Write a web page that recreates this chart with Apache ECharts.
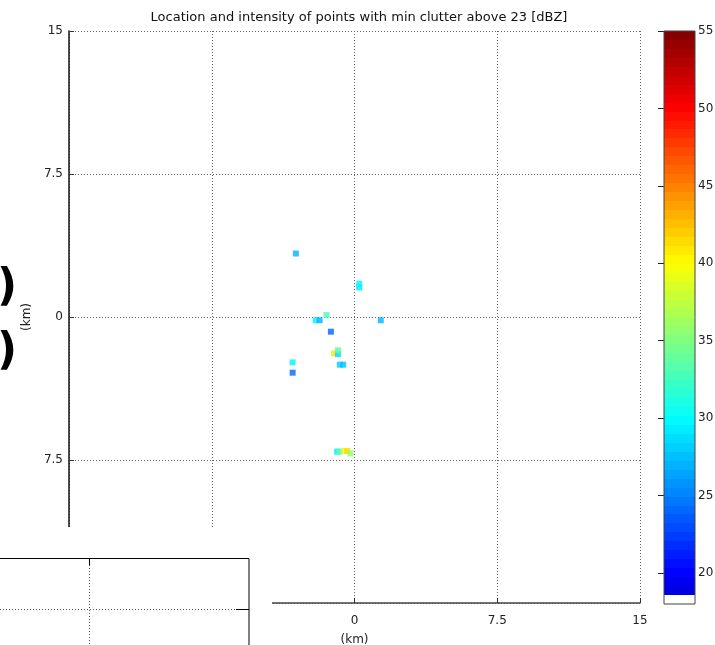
<!DOCTYPE html>
<html><head><meta charset="utf-8">
<script src="https://cdn.jsdelivr.net/npm/echarts@6/dist/echarts.min.js"></script>
<style>html,body{margin:0;padding:0;background:#fff}#c{width:715px;height:645px}</style>
</head><body><div id="c"></div>
<script>
// ---- data ----
const titleText = 'Location and intensity of points with min clutter above 23 [dBZ]';
const xTickValues = [-15, -7.5, 0, 7.5, 15];
const xTickLabels = ['-15', '-7.5', '0', '7.5', '15'];
const yTickValues = [-15, -7.5, 0, 7.5, 15];
const yTickLabels = ['-15', '7.5', '0', '7.5', '15'];
const colorbarTicks = [20, 25, 30, 35, 40, 45, 50, 55];
const colorbarMin = 18, colorbarMax = 55, colorbarCells = 64;
// points: x (km), y (km), intensity (dBZ)
const pointX   = [-3.08, 0.25, 0.25, -1.47, -2.04, -1.83, 1.38, -1.24, -1.07, -0.87, -0.87, -3.25, -3.25, -0.77, -0.59, -0.91, -0.79, -0.52, -0.38, -0.21];
const pointY   = [ 3.33, 1.55, 1.75,  0.10, -0.17, -0.17, -0.17, -0.77, -1.90, -1.95, -1.75, -2.38, -2.92, -2.50, -2.50, -7.06, -7.06, -7.03, -7.03, -7.15];
const pointDBZ = [ 27,   29,   29.5,  32.5,  29.5,  27,    27,    24,    41,    28.5,  33,    29.5,  24,    28,    27.5,  29,    33.5,  40.5,  41.5,  35.5];
const jetStops = ['#000080', '#0000ff', '#0080ff', '#00ffff', '#80ff80', '#ffff00', '#ff8000', '#ff0000', '#800000'];
const jetMin = 15, jetMax = 55;

function hexToRgb(h) { return [parseInt(h.substr(1,2),16), parseInt(h.substr(3,2),16), parseInt(h.substr(5,2),16)]; }
function jet(v) {
  let t = (v - jetMin) / (jetMax - jetMin);
  t = Math.max(0, Math.min(1, t));
  const n = jetStops.length - 1;
  const p = t * n; const i = Math.min(n - 1, Math.floor(p)); const f = p - i;
  const a = hexToRgb(jetStops[i]), b = hexToRgb(jetStops[i + 1]);
  return 'rgb(' + a.map((c, k) => Math.round(c + (b[k] - c) * f)).join(',') + ')';
}
const scatterData = pointX.map((x, i) => [x, pointY[i], pointDBZ[i]]);
const cellStep = (colorbarMax - colorbarMin) / colorbarCells;
const cellData = [];
for (let i = 0; i < colorbarCells; i++) {
  const lo = colorbarMin + i * cellStep, hi = lo + cellStep;
  cellData.push([lo, hi, i === 0 ? '#ffffff' : jet((lo + hi) / 2)]);
}

const FONT = 'DejaVu Sans';
const TXT = '#222';
const gridLine = { show: true, lineStyle: { color: '#666', width: 1, type: [1, 2] } };

const chart = echarts.init(document.getElementById('c'), null, { renderer: 'canvas' });
chart.setOption({
  animation: false,
  backgroundColor: '#fff',
  title: { text: titleText, left: 354, top: 6, textAlign: 'center',
    textStyle: { fontFamily: FONT, fontSize: 13, fontWeight: 'normal', color: '#111' } },
  grid: [
    { left: 69, top: 31, width: 571, height: 572, containLabel: false, outerBoundsMode: 'none' },
    { left: 664, top: 31, width: 31, height: 573, containLabel: false, outerBoundsMode: 'none',
      show: true, borderColor: '#444', borderWidth: 1, backgroundColor: 'transparent', z: 3 }
  ],
  xAxis: [
    { gridIndex: 0, type: 'value', min: -15, max: 15, interval: 7.5,
      name: '(km)', nameLocation: 'middle', nameGap: 31,
      nameTextStyle: { fontFamily: FONT, fontSize: 12, color: TXT },
      axisLine: { onZero: false, lineStyle: { color: '#444', width: 1.5 } },
      axisTick: { inside: true, length: 5, lineStyle: { color: '#333' } },
      axisLabel: { fontFamily: FONT, fontSize: 12, color: TXT, margin: 12,
        formatter: v => { const k = xTickValues.indexOf(v); return k >= 0 ? xTickLabels[k] : ''; } },
      splitLine: gridLine },
    { gridIndex: 1, type: 'value', min: 0, max: 1, show: false }
  ],
  yAxis: [
    { gridIndex: 0, type: 'value', min: -15, max: 15, interval: 7.5,
      name: '(km)', nameLocation: 'middle', nameGap: 36, nameRotate: 90,
      nameTextStyle: { fontFamily: FONT, fontSize: 12, color: TXT },
      axisLine: { onZero: false, lineStyle: { color: '#111', width: 1.5 } },
      axisTick: { inside: true, length: 5, lineStyle: { color: '#333' } },
      axisLabel: { fontFamily: FONT, fontSize: 12, color: TXT, margin: 6,
        formatter: v => { const k = yTickValues.indexOf(v); return k >= 0 ? yTickLabels[k] : ''; } },
      splitLine: gridLine },
    { gridIndex: 1, type: 'value', min: colorbarMin, max: colorbarMax, position: 'right',
      axisLine: { show: false },
      axisTick: { show: true, inside: true, length: 6, customValues: colorbarTicks, lineStyle: { color: '#222' } },
      axisLabel: { show: true, fontFamily: FONT, fontSize: 12, color: TXT, margin: 3, customValues: colorbarTicks },
      splitLine: { show: false } },
    { gridIndex: 1, type: 'value', min: colorbarMin, max: colorbarMax, position: 'left',
      axisLine: { show: false },
      axisTick: { show: true, inside: true, length: 6, customValues: colorbarTicks, lineStyle: { color: '#222' } },
      axisLabel: { show: false },
      splitLine: { show: false } }
  ],
  visualMap: {
    type: 'continuous', show: false, seriesIndex: 0, dimension: 2,
    min: jetMin, max: jetMax, inRange: { color: jetStops }
  },
  series: [
    { type: 'scatter', xAxisIndex: 0, yAxisIndex: 0, symbol: 'rect', symbolSize: 6,
      data: scatterData, z: 5 },
    { type: 'custom', xAxisIndex: 1, yAxisIndex: 1, data: cellData, z: 1,
      renderItem: (params, api) => {
        const p1 = api.coord([0, api.value(1)]);
        const p2 = api.coord([1, api.value(0)]);
        const y1 = Math.round(p1[1]), y2 = Math.round(p2[1]);
        return { type: 'rect', shape: { x: p1[0], y: y1, width: p2[0] - p1[0], height: y2 - y1 },
          style: { fill: cellData[params.dataIndex][2] } };
      } }
  ],
  graphic: [
    { type: 'rect', z: 100, shape: { x: 0, y: 527, width: 272, height: 120 }, style: { fill: '#fff' } },
    { type: 'rect', z: 101, shape: { x: -5, y: 558.5, width: 254, height: 100 }, style: { fill: '#fff', stroke: '#000', lineWidth: 1 } },
    { type: 'line', z: 102, shape: { x1: 0, y1: 609.5, x2: 236, y2: 609.5 }, style: { stroke: '#555', lineWidth: 1, lineDash: [1, 2] } },
    { type: 'line', z: 102, shape: { x1: 236, y1: 609.5, x2: 249, y2: 609.5 }, style: { stroke: '#000', lineWidth: 1 } },
    { type: 'line', z: 102, shape: { x1: 89.5, y1: 559, x2: 89.5, y2: 645 }, style: { stroke: '#555', lineWidth: 1, lineDash: [1, 2] } },
    { type: 'line', z: 102, shape: { x1: 89.5, y1: 559, x2: 89.5, y2: 565 }, style: { stroke: '#000', lineWidth: 1 } },
    { type: 'text', z: 102, x: -3, y: 289, style: { text: ')', font: 'bold 44px "DejaVu Sans"', fill: '#000', verticalAlign: 'middle' } },
    { type: 'text', z: 102, x: -3, y: 353, style: { text: ')', font: 'bold 44px "DejaVu Sans"', fill: '#000', verticalAlign: 'middle' } }
  ]
});
</script>
</body></html>
